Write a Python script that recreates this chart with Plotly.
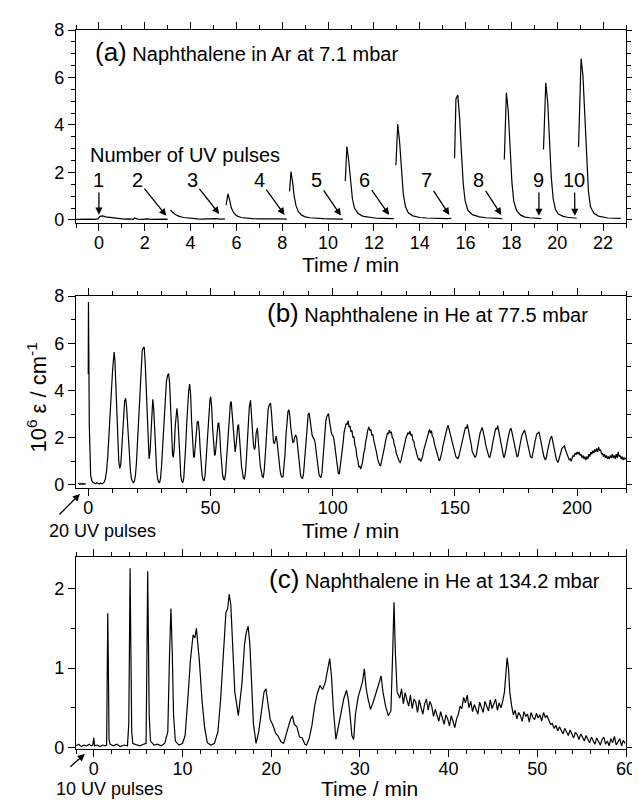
import plotly.graph_objects as go

FONT = "Liberation Sans, Arial, sans-serif"

# ---------------- Panel (a): Naphthalene in Ar at 7.1 mbar ----------------
a_times = [
    [-1, -0.8, -0.6, -0.4, -0.2, -0.05, 0.05, 0.15, 0.3, 0.5, 0.7, 0.9, 1.1, 1.3, 1.5, 1.55, 1.7, 1.9, 2.1, 2.3, 2.5, 2.7, 2.9, 3.0],
    [3.12, 3.2, 3.35, 3.5, 3.7, 3.9, 4.1, 4.3, 4.5, 4.7, 4.9, 5.1, 5.3, 5.5],
    [5.55, 5.63, 5.7, 5.78, 5.88, 6.0, 6.2, 6.4, 6.7, 7.0, 7.3, 7.6, 7.9, 8.2],
    [8.32, 8.38, 8.45, 8.52, 8.6, 8.7, 8.85, 9.0, 9.2, 9.5, 9.8, 10.1, 10.4, 10.65],
    [10.75, 10.82, 10.9, 10.98, 11.06, 11.15, 11.3, 11.5, 11.8, 12.1, 12.4, 12.65, 12.87],
    [12.96, 13.04, 13.12, 13.2, 13.28, 13.38, 13.5, 13.7, 14.0, 14.3, 14.6, 14.9, 15.2, 15.38],
    [15.52, 15.58, 15.66, 15.74, 15.82, 15.9, 15.98, 16.1, 16.3, 16.6, 16.9, 17.2, 17.4, 17.6],
    [17.69, 17.78, 17.86, 17.94, 18.02, 18.1, 18.22, 18.4, 18.6, 18.8, 19.0, 19.15, 19.3],
    [19.4, 19.5, 19.58, 19.66, 19.74, 19.82, 19.92, 20.05, 20.25, 20.45, 20.65, 20.85],
    [20.93, 21.04, 21.12, 21.2, 21.28, 21.36, 21.45, 21.6, 21.8, 22.0, 22.2, 22.4, 22.6, 22.77],
]
a_values = [
    [0.02, 0.03, 0.01, 0.03, 0.02, 0.04, 0.15, 0.17, 0.13, 0.10, 0.07, 0.05, 0.03, 0.04, 0.02, 0.08, 0.03, 0.02, 0.04, 0.02, 0.03, 0.01, 0.03, 0.02],
    [0.42, 0.33, 0.22, 0.15, 0.10, 0.07, 0.05, 0.04, 0.03, 0.04, 0.02, 0.05, 0.03, 0.04],
    [0.62, 1.10, 0.85, 0.50, 0.30, 0.18, 0.10, 0.07, 0.05, 0.04, 0.05, 0.03, 0.04, 0.03],
    [1.20, 2.04, 1.60, 1.00, 0.60, 0.35, 0.20, 0.13, 0.09, 0.06, 0.05, 0.04, 0.05, 0.03],
    [1.64, 3.09, 2.50, 1.60, 0.90, 0.50, 0.28, 0.16, 0.10, 0.07, 0.06, 0.04, 0.05],
    [2.30, 4.04, 3.30, 2.10, 1.10, 0.55, 0.30, 0.17, 0.10, 0.08, 0.06, 0.07, 0.05, 0.06],
    [2.60, 5.10, 5.26, 4.30, 2.80, 1.50, 0.80, 0.40, 0.22, 0.13, 0.09, 0.08, 0.06, 0.05],
    [2.54, 5.36, 4.60, 3.00, 1.60, 0.80, 0.40, 0.20, 0.12, 0.09, 0.07, 0.06, 0.05],
    [2.97, 5.78, 5.00, 3.40, 1.80, 0.90, 0.45, 0.25, 0.15, 0.11, 0.08, 0.07],
    [3.07, 6.80, 6.10, 4.40, 2.50, 1.20, 0.55, 0.28, 0.16, 0.11, 0.08, 0.07, 0.05, 0.06],
]
pulse_labels = ["1", "2", "3", "4", "5", "6", "7", "8", "9", "10"]
pulse_label_x = [0.0, 1.68, 4.08, 7.0, 9.5, 11.6, 14.3, 16.57, 19.2, 20.75]
pulse_label_y = [1.68] * 10
pulse_head_x = [0.0, 2.94, 5.25, 8.1, 10.56, 12.66, 15.29, 17.56, 19.2, 20.77]
pulse_head_y = [0.22, 0.17, 0.25, 0.21, 0.18, 0.21, 0.21, 0.21, 0.17, 0.17]

# ---------------- Panel (b): Naphthalene in He at 77.5 mbar ----------------
b_pre_t = [-4.2, -3.8, -3.4, -3.0, -2.6, -2.2, -1.8, -1.4, -1.0]
b_pre_v = [0.04, 0.07, 0.02, 0.06, 0.03, 0.07, 0.02, 0.05, 0.03]
b_pairs = [
    (0.0, 4.7), (0.1, 7.75), (0.25, 5.5), (0.45, 2.5), (0.7, 1.0), (1.0, 0.4), (1.5, 0.18), (2.0, 0.1), (2.5, 0.08), (3.0, 0.05),
    (3.5, 0.09), (4.0, 0.06), (4.5, 0.04), (5.0, 0.08), (5.5, 0.05), (6.0, 0.07), (6.5, 0.12), (7.0, 0.25), (7.5, 0.6), (8.0, 1.2),
    (8.5, 2.0), (9.0, 3.0), (9.5, 4.0), (10.0, 4.9), (10.3, 5.4), (10.6, 5.63), (10.9, 5.3), (11.3, 4.3), (11.7, 3.0), (12.1, 1.8),
    (12.5, 1.0), (12.9, 0.7), (13.3, 0.85), (13.7, 1.5), (14.1, 2.4), (14.5, 3.1), (14.9, 3.55), (15.3, 3.67), (15.7, 3.3), (16.1, 2.6),
    (16.5, 1.8), (16.9, 1.1), (17.3, 0.55), (17.7, 0.25), (18.1, 0.12), (18.5, 0.08), (18.9, 0.15), (19.3, 0.4), (19.7, 0.9), (20.1, 1.7),
    (20.5, 2.7), (20.9, 3.7), (21.3, 4.6), (21.7, 5.3), (22.1, 5.7), (22.5, 5.8), (22.9, 5.84), (23.3, 5.2), (23.7, 4.0), (24.1, 2.6),
    (24.5, 1.5), (24.9, 1.1), (25.3, 1.4), (25.7, 2.3), (26.1, 3.2), (26.4, 3.63), (26.8, 3.2), (27.2, 2.2), (27.6, 1.3), (28.0, 0.6),
    (28.4, 0.25), (28.8, 0.12), (29.2, 0.1), (29.6, 0.3), (30.0, 0.8), (30.4, 1.5), (30.8, 2.4), (31.2, 3.2), (31.6, 3.9), (32.0, 4.4),
    (32.5, 4.65), (32.9, 4.72), (33.3, 4.3), (33.7, 3.2), (34.1, 2.0), (34.5, 1.3), (34.8, 1.16), (35.2, 1.6), (35.6, 2.5), (36.0, 3.1),
    (36.3, 3.25), (36.7, 2.8), (37.1, 1.8), (37.5, 0.9), (37.9, 0.35), (38.3, 0.15), (38.7, 0.1), (39.1, 0.3), (39.5, 0.9), (39.9, 1.7),
    (40.3, 2.6), (40.7, 3.4), (41.1, 4.0), (41.5, 4.27), (41.9, 3.8), (42.3, 2.7), (42.7, 1.7), (43.1, 1.2), (43.4, 1.16), (43.8, 1.6),
    (44.2, 2.3), (44.6, 2.65), (45.0, 2.7), (45.4, 2.3), (45.8, 1.5), (46.2, 0.8), (46.6, 0.4), (47.0, 0.2), (47.4, 0.18), (47.8, 0.4),
    (48.2, 1.0), (48.6, 1.8), (49.0, 2.6), (49.4, 3.2), (49.8, 3.6), (50.1, 3.74), (50.5, 3.3), (50.9, 2.4), (51.3, 1.6), (51.7, 1.25),
    (52.0, 1.3), (52.4, 1.9), (52.8, 2.4), (53.1, 2.6), (53.4, 2.62), (53.8, 2.2), (54.2, 1.4), (54.6, 0.8), (55.0, 0.4), (55.4, 0.25),
    (55.8, 0.22), (56.2, 0.5), (56.6, 1.1), (57.0, 1.9), (57.4, 2.6), (57.8, 3.2), (58.2, 3.5), (58.5, 3.53), (58.9, 3.0), (59.3, 2.2),
    (59.7, 1.6), (60.1, 1.4), (60.5, 1.7), (60.9, 2.3), (61.2, 2.5), (61.5, 2.56), (61.9, 2.1), (62.3, 1.4), (62.7, 0.8), (63.1, 0.45),
    (63.5, 0.28), (63.9, 0.25), (64.3, 0.5), (64.7, 1.1), (65.1, 1.9), (65.5, 2.7), (65.9, 3.3), (66.4, 3.58), (66.8, 3.1), (67.2, 2.3),
    (67.6, 1.7), (68.0, 1.5), (68.3, 1.6), (68.7, 2.2), (69.2, 2.42), (69.6, 2.0), (70.0, 1.3), (70.4, 0.8), (70.8, 0.45), (71.2, 0.35),
    (71.6, 0.32), (72.0, 0.6), (72.4, 1.2), (72.8, 2.0), (73.2, 2.7), (73.6, 3.2), (74.1, 3.4), (74.6, 3.46), (75.0, 3.0), (75.4, 2.3),
    (75.8, 1.8), (76.2, 1.75), (76.6, 2.0), (76.9, 2.07), (77.3, 1.8), (77.7, 1.3), (78.1, 0.9), (78.5, 0.6), (78.9, 0.4), (79.3, 0.33),
    (79.7, 0.35), (80.1, 0.7), (80.5, 1.3), (80.9, 2.1), (81.3, 2.7), (81.7, 3.1), (82.1, 3.18), (82.5, 2.9), (82.9, 2.4), (83.3, 2.0),
    (83.7, 1.8), (84.1, 1.82), (84.5, 2.05), (84.9, 2.1), (85.3, 2.0), (85.7, 1.6), (86.1, 1.1), (86.5, 0.7), (86.9, 0.4), (87.3, 0.3),
    (87.7, 0.28), (88.1, 0.5), (88.5, 1.0), (88.9, 1.7), (89.3, 2.3), (89.7, 2.8), (90.0, 3.0), (90.4, 3.04), (90.8, 2.7), (91.2, 2.3),
    (91.6, 2.1), (92.0, 2.0), (92.4, 1.95), (92.8, 1.8), (93.2, 1.5), (93.6, 1.1), (94.0, 0.7), (94.4, 0.45), (94.8, 0.35), (95.2, 0.32),
    (95.6, 0.5), (96.0, 1.0), (96.4, 1.6), (96.8, 2.3), (97.2, 2.7), (97.6, 2.9), (98.0, 3.0), (98.3, 3.02), (98.7, 2.7), (99.1, 2.4),
    (99.5, 2.2), (99.9, 2.1), (100.3, 2.05), (100.7, 1.8), (101.1, 1.4), (101.5, 1.0), (101.9, 0.7), (102.3, 0.5), (102.7, 0.46), (103.1, 0.75),
    (103.5, 1.05), (103.9, 1.5), (104.3, 1.8), (104.7, 2.25), (105.1, 2.4), (105.5, 2.6), (105.9, 2.55), (106.3, 2.72), (106.7, 2.45), (107.1, 2.5),
    (107.5, 2.25), (107.9, 2.3), (108.3, 2.0), (108.7, 2.05), (109.1, 1.7), (109.5, 1.55), (109.9, 1.2), (110.3, 1.05), (110.7, 0.75), (111.1, 0.8),
    (111.5, 0.67), (111.9, 0.85), (112.3, 1.0), (112.7, 1.35), (113.1, 1.5), (113.5, 1.85), (113.9, 2.0), (114.3, 2.3), (114.8, 2.46), (115.2, 2.3),
    (115.6, 2.35), (116.0, 2.1), (116.4, 2.15), (116.8, 1.9), (117.2, 1.75), (117.6, 1.5), (118.0, 1.35), (118.4, 1.1), (118.8, 0.95), (119.2, 0.85),
    (119.6, 0.81), (120.0, 1.0), (120.4, 1.1), (120.8, 1.4), (121.2, 1.6), (121.6, 1.85), (122.0, 2.0), (122.4, 2.2), (122.8, 2.15), (123.2, 2.32),
    (123.6, 2.2), (124.0, 2.25), (124.4, 2.0), (124.8, 1.95), (125.2, 1.7), (125.6, 1.6), (126.0, 1.35), (126.4, 1.2), (126.8, 1.05), (127.2, 1.0),
    (127.6, 0.95), (128.0, 1.05), (128.4, 1.25), (128.8, 1.4), (129.2, 1.65), (129.6, 1.8), (130.0, 2.0), (130.4, 2.1), (130.8, 2.2), (131.2, 2.15),
    (131.6, 2.28), (132.0, 2.1), (132.4, 2.15), (132.8, 1.9), (133.2, 1.85), (133.6, 1.6), (134.0, 1.5), (134.4, 1.3), (134.8, 1.2), (135.2, 1.05),
    (135.6, 1.1), (136.0, 0.99), (136.4, 1.1), (136.8, 1.2), (137.2, 1.45), (137.6, 1.6), (138.0, 1.85), (138.4, 1.95), (138.8, 2.15), (139.2, 2.2),
    (139.6, 2.35), (140.0, 2.2), (140.4, 2.3), (140.8, 2.05), (141.2, 2.0), (141.6, 1.75), (142.0, 1.6), (142.4, 1.4), (142.8, 1.3), (143.2, 1.1),
    (143.6, 1.02), (144.0, 1.1), (144.4, 1.25), (144.8, 1.45), (145.2, 1.7), (145.6, 1.9), (146.0, 2.1), (146.4, 2.3), (146.8, 2.4), (147.2, 2.53),
    (147.6, 2.35), (148.0, 2.3), (148.4, 2.05), (148.8, 1.9), (149.2, 1.65), (149.6, 1.5), (150.0, 1.35), (150.4, 1.2), (150.8, 1.15), (151.2, 1.12),
    (151.6, 1.2), (152.0, 1.4), (152.4, 1.6), (152.8, 1.85), (153.2, 2.0), (153.6, 2.25), (154.0, 2.3), (154.4, 2.45), (154.8, 2.4), (155.1, 2.56),
    (155.5, 2.35), (155.9, 2.2), (156.3, 1.9), (156.7, 1.7), (157.1, 1.4), (157.5, 1.3), (157.9, 1.2), (158.3, 1.16), (158.7, 1.25), (159.1, 1.5),
    (159.5, 1.7), (159.9, 1.95), (160.3, 2.2), (160.7, 2.3), (161.1, 2.44), (161.5, 2.3), (161.9, 2.15), (162.3, 1.9), (162.7, 1.65), (163.1, 1.45),
    (163.5, 1.3), (163.9, 1.2), (164.3, 1.16), (164.7, 1.3), (165.1, 1.55), (165.5, 1.8), (165.9, 2.05), (166.3, 2.2), (166.7, 2.4), (167.1, 2.35),
    (167.5, 2.51), (167.9, 2.3), (168.3, 2.1), (168.7, 1.8), (169.1, 1.55), (169.5, 1.35), (169.9, 1.2), (170.2, 1.16), (170.6, 1.3), (171.0, 1.55),
    (171.4, 1.8), (171.8, 2.1), (172.2, 2.2), (172.6, 2.35), (173.0, 2.39), (173.4, 2.2), (173.8, 2.0), (174.2, 1.7), (174.6, 1.45), (175.0, 1.3),
    (175.4, 1.2), (175.8, 1.22), (176.2, 1.4), (176.6, 1.65), (177.0, 1.9), (177.4, 2.1), (177.8, 2.2), (178.2, 2.3), (178.5, 2.32), (178.9, 2.15),
    (179.3, 1.95), (179.7, 1.7), (180.1, 1.45), (180.5, 1.3), (180.9, 1.2), (181.5, 1.15), (181.9, 1.3), (182.3, 1.55), (182.7, 1.8), (183.1, 2.0),
    (183.5, 2.15), (184.0, 2.2), (184.4, 2.25), (184.8, 2.05), (185.2, 1.85), (185.6, 1.6), (186.0, 1.35), (186.4, 1.2), (187.0, 1.05), (187.4, 1.15),
    (187.8, 1.4), (188.2, 1.6), (188.6, 1.85), (189.0, 1.95), (189.6, 2.07), (190.0, 1.9), (190.4, 1.7), (190.8, 1.45), (191.2, 1.25), (191.6, 1.05),
    (192.2, 0.95), (192.6, 1.1), (193.0, 1.3), (193.4, 1.45), (193.8, 1.55), (194.3, 1.6), (194.8, 1.65), (195.2, 1.5), (195.6, 1.4), (196.0, 1.25),
    (196.4, 1.2), (196.8, 1.05), (197.2, 1.1), (197.6, 1.0), (198.0, 1.15), (198.4, 1.25), (198.8, 1.2), (199.2, 1.35), (199.6, 1.3), (200.0, 1.4),
    (200.4, 1.3), (200.8, 1.4), (201.2, 1.25), (201.6, 1.3), (202.0, 1.15), (202.4, 1.25), (202.8, 1.1), (203.2, 1.2), (203.6, 1.05), (204.0, 1.2),
    (204.4, 1.1), (204.8, 1.3), (205.2, 1.2), (205.6, 1.4), (206.0, 1.3), (206.4, 1.45), (206.8, 1.35), (207.2, 1.5), (207.6, 1.4), (208.0, 1.55),
    (208.4, 1.4), (208.8, 1.6), (209.2, 1.45), (209.6, 1.5), (210.0, 1.3), (210.4, 1.35), (210.8, 1.2), (211.2, 1.3), (211.6, 1.15), (212.0, 1.25),
    (212.4, 1.1), (212.8, 1.2), (213.2, 1.1), (213.6, 1.25), (214.0, 1.15), (214.4, 1.3), (214.8, 1.15), (215.2, 1.25), (215.6, 1.1), (216.0, 1.3),
    (216.4, 1.15), (216.8, 1.4), (217.2, 1.2), (217.6, 1.25), (218.0, 1.1), (218.4, 1.2), (218.8, 1.05), (219.2, 1.15), (219.6, 1.1), (220.0, 1.15),
]
b_main_t = [p[0] for p in b_pairs]
b_main_v = [p[1] for p in b_pairs]

# ---------------- Panel (c): Naphthalene in He at 134.2 mbar ----------------
c_pairs = [
    (-2.0, 0.02), (-1.7, 0.04), (-1.4, 0.01), (-1.1, 0.03), (-0.8, 0.02), (-0.5, 0.04), (-0.3, 0.02), (-0.1, 0.03), (0.0, 0.12), (0.1, 0.02),
    (0.4, 0.03), (0.7, 0.01), (1.0, 0.03), (1.3, 0.02), (1.45, 0.03), (1.52, 0.9), (1.58, 1.69), (1.65, 1.0), (1.72, 0.1), (1.85, 0.04),
    (2.2, 0.02), (2.6, 0.04), (3.0, 0.01), (3.4, 0.03), (3.8, 0.02), (3.95, 0.3), (4.05, 1.9), (4.1, 2.26), (4.18, 1.3), (4.28, 0.2),
    (4.4, 0.05), (4.8, 0.03), (5.2, 0.02), (5.6, 0.04), (5.9, 0.05), (6.0, 1.2), (6.08, 2.22), (6.15, 1.5), (6.25, 0.4), (6.4, 0.08),
    (6.8, 0.03), (7.2, 0.04), (7.6, 0.02), (8.0, 0.05), (8.35, 0.2), (8.55, 1.2), (8.7, 1.75), (8.85, 1.2), (9.0, 0.4), (9.2, 0.08),
    (9.6, 0.03), (10.0, 0.05), (10.3, 0.15), (10.6, 0.6), (10.9, 1.1), (11.2, 1.42), (11.4, 1.38), (11.57, 1.5), (11.75, 1.3), (11.9, 1.1),
    (12.2, 0.6), (12.5, 0.25), (12.8, 0.06), (13.2, 0.03), (13.6, 0.05), (14.0, 0.2), (14.3, 0.6), (14.6, 1.2), (14.9, 1.7), (15.1, 1.75),
    (15.27, 1.93), (15.45, 1.8), (15.65, 1.2), (15.9, 0.7), (16.3, 0.4), (16.7, 0.8), (17.0, 1.3), (17.2, 1.45), (17.4, 1.53), (17.6, 1.3),
    (17.8, 0.8), (18.0, 0.3), (18.3, 0.05), (18.6, 0.2), (18.9, 0.45), (19.2, 0.7), (19.4, 0.74), (19.6, 0.6), (19.9, 0.35), (20.2, 0.28),
    (20.5, 0.18), (20.8, 0.14), (21.1, 0.07), (21.4, 0.05), (21.7, 0.17), (22.0, 0.28), (22.2, 0.36), (22.4, 0.4), (22.6, 0.29), (22.9, 0.26),
    (23.2, 0.13), (23.5, 0.12), (23.8, 0.04), (24.0, 0.03), (24.3, 0.12), (24.6, 0.28), (24.9, 0.52), (25.2, 0.68), (25.5, 0.78), (25.8, 0.73),
    (26.1, 0.82), (26.4, 1.0), (26.6, 1.12), (26.8, 0.9), (27.0, 0.5), (27.3, 0.1), (27.6, 0.27), (27.9, 0.43), (28.2, 0.62), (28.5, 0.72),
    (28.7, 0.6), (28.9, 0.4), (29.1, 0.15), (29.3, 0.1), (29.5, 0.42), (29.8, 0.63), (30.1, 0.74), (30.3, 0.83), (30.5, 0.99), (30.7, 0.75),
    (30.9, 0.62), (31.2, 0.48), (31.5, 0.57), (31.8, 0.68), (32.1, 0.82), (32.4, 0.9), (32.6, 0.7), (32.9, 0.52), (33.2, 0.4), (33.5, 0.46),
    (33.7, 1.2), (33.85, 1.83), (34.0, 1.2), (34.2, 0.7), (34.5, 0.62), (34.7, 0.74), (34.9, 0.55), (35.1, 0.69), (35.3, 0.6), (35.5, 0.52),
    (35.7, 0.66), (35.9, 0.49), (36.1, 0.61), (36.3, 0.57), (36.5, 0.44), (36.7, 0.6), (36.9, 0.5), (37.1, 0.42), (37.3, 0.55), (37.5, 0.61),
    (37.7, 0.47), (37.9, 0.58), (38.1, 0.52), (38.3, 0.39), (38.5, 0.48), (38.7, 0.41), (38.9, 0.33), (39.1, 0.45), (39.3, 0.38), (39.5, 0.29),
    (39.7, 0.41), (39.9, 0.36), (40.1, 0.27), (40.3, 0.4), (40.5, 0.33), (40.7, 0.25), (40.9, 0.36), (41.1, 0.42), (41.3, 0.52), (41.5, 0.49),
    (41.7, 0.63), (41.9, 0.56), (42.1, 0.66), (42.3, 0.5), (42.5, 0.58), (42.7, 0.45), (42.9, 0.54), (43.1, 0.49), (43.3, 0.42), (43.5, 0.57),
    (43.7, 0.5), (43.9, 0.44), (44.1, 0.58), (44.3, 0.53), (44.5, 0.46), (44.7, 0.6), (44.9, 0.49), (45.1, 0.55), (45.3, 0.61), (45.5, 0.47),
    (45.7, 0.56), (45.9, 0.5), (46.1, 0.58), (46.3, 0.7), (46.5, 1.05), (46.6, 1.13), (46.75, 1.0), (46.9, 0.7), (47.1, 0.53), (47.3, 0.41),
    (47.5, 0.47), (47.7, 0.36), (47.9, 0.44), (48.1, 0.4), (48.3, 0.33), (48.5, 0.45), (48.7, 0.39), (48.9, 0.42), (49.1, 0.32), (49.3, 0.44),
    (49.5, 0.38), (49.7, 0.35), (49.9, 0.43), (50.1, 0.37), (50.3, 0.41), (50.5, 0.33), (50.7, 0.44), (50.9, 0.38), (51.1, 0.4), (51.3, 0.34),
    (51.5, 0.29), (51.7, 0.3), (51.9, 0.24), (52.1, 0.28), (52.3, 0.21), (52.5, 0.26), (52.7, 0.22), (52.9, 0.17), (53.1, 0.24), (53.3, 0.2),
    (53.5, 0.15), (53.7, 0.22), (53.9, 0.17), (54.1, 0.12), (54.3, 0.19), (54.5, 0.16), (54.7, 0.1), (54.9, 0.17), (55.1, 0.13), (55.3, 0.08),
    (55.5, 0.15), (55.7, 0.1), (55.9, 0.06), (56.1, 0.13), (56.3, 0.09), (56.5, 0.04), (56.7, 0.12), (56.9, 0.07), (57.1, 0.03), (57.3, 0.1),
    (57.5, 0.13), (57.7, 0.04), (57.9, 0.08), (58.1, 0.02), (58.3, 0.11), (58.5, 0.06), (58.7, 0.14), (58.9, 0.03), (59.1, 0.07), (59.3, 0.11),
    (59.5, 0.02), (59.7, 0.09), (59.9, 0.05),
]
c_t = [p[0] for p in c_pairs]
c_v = [p[1] for p in c_pairs]

# ---------------- build figure ----------------
fig = go.Figure()

a_x, a_y = [], []
for ts, vs in zip(a_times, a_values):
    a_x += ts + [None]
    a_y += vs + [None]
line = dict(color="black", width=1.2)
fig.add_trace(go.Scatter(x=a_x, y=a_y, mode="lines", line=line, xaxis="x", yaxis="y", connectgaps=False))
fig.add_trace(go.Scatter(x=b_pre_t + [None] + b_main_t, y=b_pre_v + [None] + b_main_v, mode="lines", line=line,
                         xaxis="x2", yaxis="y2", connectgaps=False))
fig.add_trace(go.Scatter(x=c_t, y=c_v, mode="lines", line=line, xaxis="x3", yaxis="y3"))


def axis(rng, dtick, minor_dtick, is_x, domain=None, anchor=None):
    d = dict(range=rng, dtick=dtick, tick0=0, ticks="outside", ticklen=7, tickwidth=1.3, tickcolor="black",
             showline=True, linewidth=1.3, linecolor="black", mirror="ticks", showgrid=False, zeroline=False,
             tickfont=dict(size=18, color="black", family=FONT),
             minor=dict(dtick=minor_dtick, tick0=0, ticks="outside", ticklen=4, tickwidth=1.3, tickcolor="black",
                        showgrid=False))
    if is_x:
        d["ticklabelstandoff"] = -4
    if domain is not None:
        d["domain"] = domain
    if anchor is not None:
        d["anchor"] = anchor
    return d


layout = dict(
    width=640, height=800, showlegend=False,
    paper_bgcolor="white", plot_bgcolor="white",
    margin=dict(l=68, r=13, t=22, b=59),
    font=dict(family=FONT, color="black", size=18),
    xaxis=axis([-1, 23], 2, 1, True, anchor="y"),
    yaxis=axis([-0.13, 8], 2, 0.5, False, domain=[0.7316, 1.0], anchor="x"),
    xaxis2=axis([-5, 220], 50, 10, True, anchor="y2"),
    yaxis2=axis([-0.13, 8], 2, 1, False, domain=[0.3630, 0.6300], anchor="x2"),
    xaxis3=axis([-2, 60], 10, 2, True, anchor="y3"),
    yaxis3=axis([-0.02, 2.4], 1, 0.5, False, domain=[0.0, 0.2670], anchor="x3"),
)
fig.update_layout(**layout)

ann = []
# panel titles
ann.append(dict(xref="x", yref="y", x=-0.25, y=7.09, xanchor="left", yanchor="middle", showarrow=False,
                text="<span style='font-size:26px'>(a)</span> Naphthalene in Ar at 7.1 mbar", font=dict(size=20)))
ann.append(dict(xref="x2", yref="y2", x=205.2, y=7.3, xanchor="right", yanchor="middle", showarrow=False,
                text="<span style='font-size:26px'>(b)</span> Naphthalene in He at 77.5 mbar", font=dict(size=20)))
ann.append(dict(xref="x3", yref="y3", x=57.3, y=2.12, xanchor="right", yanchor="middle", showarrow=False,
                text="<span style='font-size:26px'>(c)</span> Naphthalene in He at 134.2 mbar", font=dict(size=20)))
ann.append(dict(xref="x", yref="y", x=3.75, y=2.74, xanchor="center", yanchor="middle", showarrow=False,
                text="Number of UV pulses", font=dict(size=20)))
for lab, lx, ly, hx, hy in zip(pulse_labels, pulse_label_x, pulse_label_y, pulse_head_x, pulse_head_y):
    ann.append(dict(xref="x", yref="y", axref="x", ayref="y", x=hx, y=hy, ax=lx, ay=ly, text=lab,
                    showarrow=True, arrowhead=2, arrowsize=1.1, arrowwidth=1.3, arrowcolor="black",
                    font=dict(size=20)))
# axis titles
for xp, yp in [(0.499, 0.6732), (0.499, 0.3032), (0.533, -0.0556)]:
    ann.append(dict(xref="paper", yref="paper", x=xp, y=yp, xanchor="center", yanchor="middle",
                    showarrow=False, text="Time / min", font=dict(size=21)))
ann.append(dict(xref="paper", yref="paper", x=-0.0716, y=0.4882, xanchor="center", yanchor="middle",
                showarrow=False, textangle=-90,
                text="10<sup>6</sup> ε / cm<sup>-1</sup>", font=dict(size=22)))
# UV pulse notes
ann.append(dict(xref="paper", yref="paper", x=0.0483, y=0.3032, xanchor="center", yanchor="middle",
                showarrow=False, text="20 UV pulses", font=dict(size=18)))
ann.append(dict(xref="paper", yref="paper", x=0.00716, y=0.3547, ax=-22, ay=22, text="", showarrow=True,
                arrowhead=2, arrowsize=1.1, arrowwidth=1.3, arrowcolor="black"))
ann.append(dict(xref="paper", yref="paper", x=0.0608, y=-0.0556, xanchor="center", yanchor="middle",
                showarrow=False, text="10 UV pulses", font=dict(size=18)))
ann.append(dict(xref="paper", yref="paper", x=0.0161, y=-0.0070, ax=-16, ay=14, text="", showarrow=True,
                arrowhead=2, arrowsize=1.1, arrowwidth=1.3, arrowcolor="black"))
fig.update_layout(annotations=ann)

fig.write_html("out.html")
